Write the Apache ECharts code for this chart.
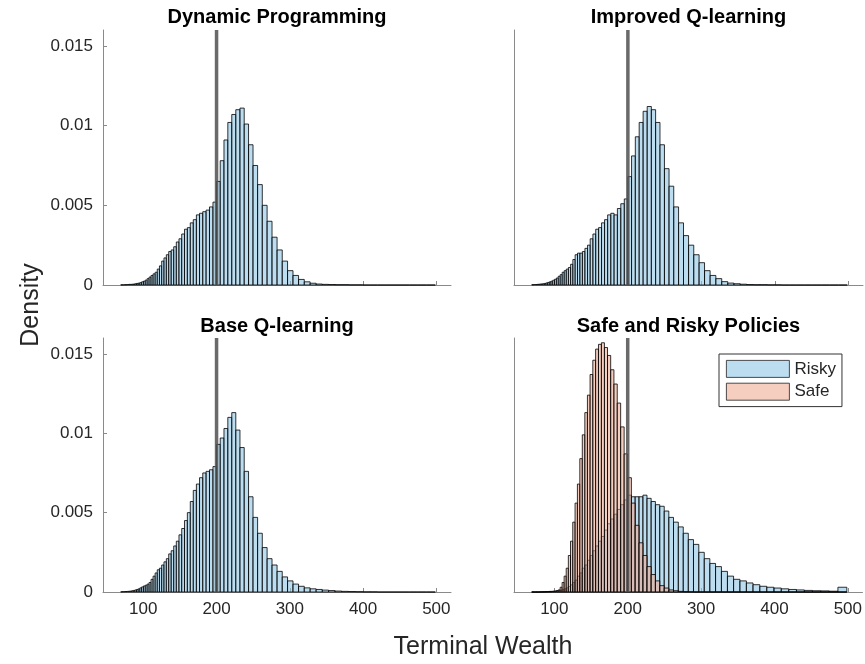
<!DOCTYPE html>
<html>
<head>
<meta charset="utf-8">
<title>Terminal Wealth</title>
<script src="https://cdn.jsdelivr.net/npm/echarts@6/dist/echarts.min.js"></script>
<style>
  html, body { margin: 0; padding: 0; background: #fff; }
  #chart { width: 865px; height: 664px; }
</style>
</head>
<body>
<div id="chart"></div>
<script>
// histogram bin edges (log spaced, 200 is an edge)
const binEdges = [69.17, 70.90, 72.67, 74.49, 76.35, 78.26, 80.21, 82.22, 84.27, 86.38,
  88.54, 90.75, 93.02, 95.35, 97.73, 100.18, 102.68, 105.25, 107.88, 110.57,
  113.34, 116.17, 119.08, 122.05, 125.11, 128.23, 131.44, 134.72, 138.09, 141.54,
  145.08, 148.71, 152.43, 156.24, 160.15, 164.15, 168.25, 172.46, 176.77, 181.19,
  185.72, 190.36, 195.12, 200.00, 205.00, 210.13, 215.38, 220.76, 226.28, 231.94,
  237.74, 243.68, 249.77, 256.02, 262.42, 268.98, 275.70, 282.59, 289.66, 296.90,
  304.32, 311.93, 319.73, 327.72, 335.92, 344.31, 352.92, 361.75, 370.79, 380.06,
  389.56, 399.30, 409.28, 419.51, 430.00, 440.75, 451.77, 463.06, 474.64, 486.51, 498.67];

// densities per bin
const dpDensity = [0.00001, 0.00001, 0.00001, 0.00002, 0.00002, 0.00003, 0.00004, 0.00004, 0.00005, 0.00006,
  0.00008, 0.0001, 0.00012, 0.00015, 0.0002, 0.00024, 0.00031, 0.0004, 0.0005, 0.0006,
  0.0007, 0.0008, 0.001, 0.0012, 0.0015, 0.0017, 0.0019, 0.0021, 0.0022, 0.0024,
  0.0027, 0.0029, 0.0032, 0.0035, 0.0036, 0.0039, 0.0041, 0.0044, 0.0045, 0.0046,
  0.0047, 0.0049, 0.0052, 0.0065, 0.0078, 0.0091, 0.0102, 0.0107, 0.0110, 0.0111,
  0.0101, 0.0088, 0.0075, 0.0063, 0.0050, 0.0040, 0.0030, 0.0022, 0.0015, 0.0009,
  0.0006, 0.00035, 0.0002, 0.00011, 0.00006, 0.00004, 0.00003, 0.00002, 0.00002, 0.00001,
  0.00001, 0, 0, 0, 0, 0, 0, 0, 0, 0];

const improvedDensity = [0.00002, 0.00002, 0.00003, 0.00003, 0.00004, 0.00005, 0.00006, 0.00007, 0.00008, 0.0001,
  0.00013, 0.00016, 0.0002, 0.00024, 0.0003, 0.00036, 0.00044, 0.00055, 0.00065, 0.0008,
  0.0009, 0.001, 0.0011, 0.0013, 0.0016, 0.0019, 0.002, 0.002, 0.0021, 0.0023,
  0.0025, 0.0029, 0.0032, 0.0035, 0.0036, 0.0039, 0.0041, 0.0044, 0.0045, 0.0044,
  0.0048, 0.0051, 0.0054, 0.0068, 0.0081, 0.0093, 0.0102, 0.0109, 0.0112, 0.0110,
  0.0102, 0.0088, 0.0073, 0.0062, 0.0049, 0.0039, 0.0031, 0.0025, 0.0019, 0.0014,
  0.0009, 0.0006, 0.0004, 0.00021, 0.00012, 0.00008, 0.00005, 0.00003, 0.00002, 0.00002,
  0.00001, 0.00001, 0, 0, 0, 0, 0, 0, 0, 0];

const baseDensity = [0.00001, 0.00002, 0.00002, 0.00003, 0.00003, 0.00004, 0.00005, 0.00006, 0.00008, 0.0001,
  0.00013, 0.00016, 0.0002, 0.00026, 0.00032, 0.00038, 0.00043, 0.0005, 0.0006, 0.0008,
  0.001, 0.0012, 0.0014, 0.0015, 0.0017, 0.0019, 0.0021, 0.0024, 0.0026, 0.0029,
  0.0032, 0.0036, 0.0040, 0.0045, 0.0050, 0.0057, 0.0064, 0.0068, 0.0072, 0.0075,
  0.0076, 0.0077, 0.0079, 0.0093, 0.0097, 0.0103, 0.0110, 0.0113, 0.0102, 0.0091,
  0.0076, 0.0060, 0.0047, 0.0037, 0.0028, 0.0021, 0.0017, 0.0013, 0.00095, 0.0007,
  0.0005, 0.00036, 0.00026, 0.0002, 0.00016, 0.00012, 0.00009, 0.00006, 0.00004, 0.00003,
  0.00002, 0.00001, 0.00001, 0, 0, 0, 0, 0, 0, 0];

const riskyDensity = [0, 0, 0, 0, 0, 0, 0.00001, 0.00001, 0.00002, 0.00002,
  0.00003, 0.00003, 0.00004, 0.00004, 0.00005, 0.00006, 0.00008, 0.0001, 0.00012, 0.00015,
  0.0002, 0.00026, 0.00035, 0.00045, 0.0006, 0.00075, 0.001, 0.0012, 0.0015, 0.0017,
  0.002, 0.0023, 0.0026, 0.0029, 0.0032, 0.0035, 0.0039, 0.0043, 0.0046, 0.0049,
  0.0052, 0.0055, 0.0058, 0.0061, 0.0060, 0.0060, 0.0060, 0.0061, 0.0059, 0.0057,
  0.0055, 0.0054, 0.0051, 0.0047, 0.0044, 0.0041, 0.0037, 0.0033, 0.0030, 0.0025,
  0.0021, 0.0018, 0.0016, 0.0013, 0.0010, 0.0008, 0.0007, 0.00057, 0.00046, 0.00036,
  0.0003, 0.00025, 0.0002, 0.00016, 0.00013, 0.0001, 0.00008, 0.00007, 0.00005, 0.0003];

const safeDensity = [0, 0, 0, 0, 0, 0, 0, 0, 0, 0,
  0.00001, 0.00001, 0.00002, 0.00002, 0.00004, 0.00005, 0.00008, 0.00013, 0.0003, 0.0006,
  0.001, 0.0015, 0.0023, 0.0032, 0.0044, 0.0056, 0.0068, 0.0084, 0.0099, 0.0113,
  0.0124, 0.0137, 0.0146, 0.0153, 0.0156, 0.0157, 0.0154, 0.0149, 0.0140, 0.0131,
  0.0119, 0.0104, 0.0087, 0.0072, 0.0056, 0.0042, 0.0031, 0.0023, 0.0016, 0.0011,
  0.0007, 0.0004, 0.00025, 0.00013, 0.00008, 0.00004, 0.00002, 0.00001, 0, 0,
  0, 0, 0, 0, 0, 0, 0, 0, 0, 0,
  0, 0, 0, 0, 0, 0, 0, 0, 0, 0];

const panelTitles = ['Dynamic Programming', 'Improved Q-learning', 'Base Q-learning', 'Safe and Risky Policies'];
const xTicks = [100, 200, 300, 400, 500];
const yTicks = [0, 0.005, 0.01, 0.015];
const targetWealth = 200;

const FONT = '"Liberation Sans", Arial, Helvetica, sans-serif';
const BLUE = 'rgba(143,196,229,0.6)';
const PEACH = 'rgba(236,166,140,0.55)';
const AXIS_GRAY = '#8a8a8a';

const grids = [
  {left: 103, top: 30, width: 348, height: 255},
  {left: 514, top: 30, width: 349, height: 255},
  {left: 103, top: 338, width: 348, height: 254},
  {left: 514, top: 338, width: 349, height: 254}
];

const hists = [
  [{name: 'Dynamic Programming', values: dpDensity, color: BLUE}],
  [{name: 'Improved Q-learning', values: improvedDensity, color: BLUE}],
  [{name: 'Base Q-learning', values: baseDensity, color: BLUE}],
  [{name: 'Risky', values: riskyDensity, color: BLUE}, {name: 'Safe', values: safeDensity, color: PEACH}]
];

function renderBin(params, api) {
  const a = api.coord([api.value(0), api.value(2)]);
  const b = api.coord([api.value(1), 0]);
  return {
    type: 'rect',
    shape: {x: a[0], y: a[1], width: b[0] - a[0], height: b[1] - a[1]},
    style: {fill: api.visual('color'), stroke: '#000', lineWidth: 0.8}
  };
}

const chart = echarts.init(document.getElementById('chart'), null, {renderer: 'canvas'});

let xAxis = [], yAxis = [], series = [], graphic = [];
grids.forEach((g, i) => {
  const bottomRow = i >= 2, leftCol = i % 2 === 0;
  xAxis.push({
    type: 'value', gridIndex: i, min: 45, max: 520,
    axisLine: {lineStyle: {color: AXIS_GRAY, width: 1}},
    axisTick: {show: true, inside: true, length: 4, customValues: xTicks, lineStyle: {color: AXIS_GRAY}},
    axisLabel: {show: bottomRow, customValues: xTicks, margin: 9, fontSize: 17, color: '#262626', fontFamily: FONT},
    splitLine: {show: false}
  });
  yAxis.push({
    type: 'value', gridIndex: i, min: 0, max: 0.016,
    axisLine: {show: true, lineStyle: {color: AXIS_GRAY, width: 1}},
    axisTick: {show: leftCol, inside: true, length: 4, customValues: yTicks, lineStyle: {color: AXIS_GRAY}},
    axisLabel: {
      show: leftCol, customValues: yTicks, margin: 10, fontSize: 17, color: '#262626', fontFamily: FONT,
      formatter: v => v === 0 ? '0' : String(v)
    },
    splitLine: {show: false}
  });
  hists[i].forEach(h => {
    series.push({
      type: 'custom', name: h.name, xAxisIndex: i, yAxisIndex: i,
      renderItem: renderBin,
      itemStyle: {color: h.color, borderColor: '#222', borderWidth: 0.8},
      encode: {x: [0, 1], y: 2},
      data: h.values.map((v, k) => [binEdges[k], binEdges[k + 1], v])
    });
  });
  series.push({
    type: 'line', name: 'target' + i, xAxisIndex: i, yAxisIndex: i,
    data: [[targetWealth, 0], [targetWealth, 0.016]],
    symbol: 'none', silent: true, z: 5,
    lineStyle: {color: '#505050', width: 3.5, opacity: 0.85}
  });
  graphic.push({
    type: 'text', x: g.left + g.width / 2, y: bottomRow ? 326 : 17,
    style: {text: panelTitles[i], font: 'bold 20px ' + FONT, fill: '#000', textAlign: 'center', textVerticalAlign: 'middle'}
  });
});

graphic.push({
  type: 'text', x: 31, y: 305, rotation: Math.PI / 2,
  style: {text: 'Density', font: '25px ' + FONT, fill: '#262626', textAlign: 'center', textVerticalAlign: 'middle'}
});
graphic.push({
  type: 'text', x: 483, y: 647,
  style: {text: 'Terminal Wealth', font: '25px ' + FONT, fill: '#262626', textAlign: 'center', textVerticalAlign: 'middle'}
});

chart.setOption({
  animation: false,
  backgroundColor: '#fff',
  grid: grids,
  xAxis: xAxis,
  yAxis: yAxis,
  series: series,
  graphic: graphic,
  legend: {
    data: ['Risky', 'Safe'],
    orient: 'vertical',
    left: 719, top: 354,
    padding: [6, 6, 6, 7],
    itemGap: 5,
    itemWidth: 63, itemHeight: 17,
    icon: 'rect',
    itemStyle: {borderWidth: 0.8, borderColor: '#222'},
    backgroundColor: '#fff',
    borderColor: '#333', borderWidth: 1,
    textStyle: {fontSize: 17, color: '#262626', fontFamily: FONT},
    selectedMode: false
  }
});
</script>
</body>
</html>
